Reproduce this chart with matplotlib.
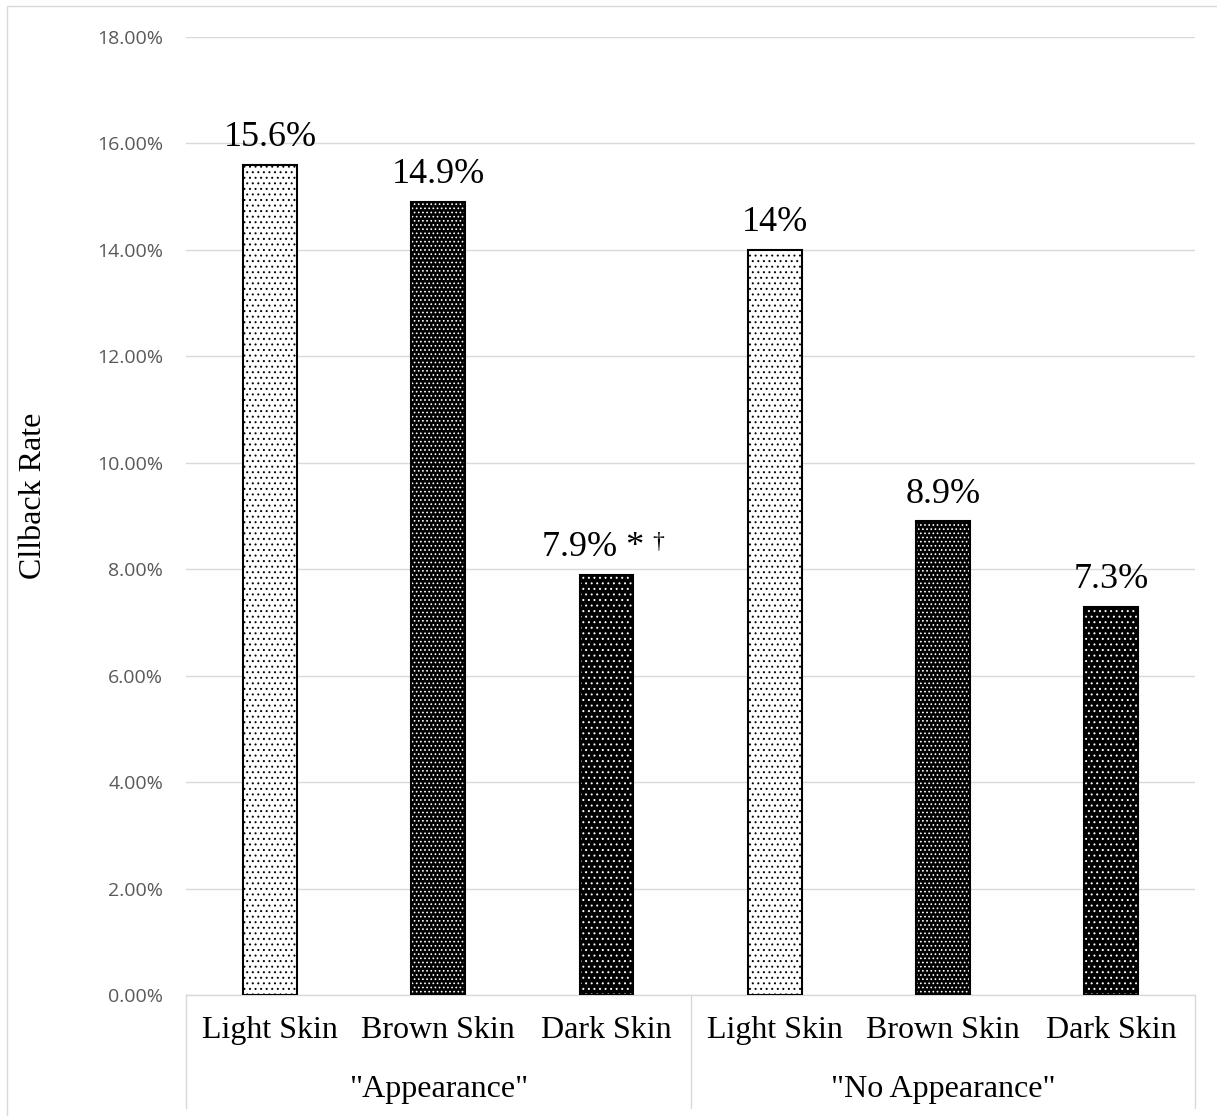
import numpy as np
import matplotlib
matplotlib.use('Agg')
import matplotlib.pyplot as plt
from matplotlib.patches import Rectangle
from matplotlib.ticker import FuncFormatter

plt.rcParams['hatch.linewidth'] = 0.7

# callback rates (%) by condition and skin tone
groups = ['"Appearance"', '"No Appearance"']
skins = ['Light Skin', 'Brown Skin', 'Dark Skin']
rates = [15.6, 14.9, 7.9, 14.0, 8.9, 7.3]
value_labels = ['15.6%', '14.9%', '7.9% *', '14%', '8.9%', '7.3%']
yticks = [0, 2, 4, 6, 8, 10, 12, 14, 16, 18]

grey = '#d9d9d9'
serif = 'Liberation Serif'

# face colour, dot colour, hatch for each skin tone
styles = {
    'Light Skin': ('white', 'black', '...'),
    'Brown Skin': ('black', 'white', '....'),
    'Dark Skin': ('black', 'white', '...'),
}

fig = plt.figure(figsize=(12.17, 11.16), dpi=100)
ax = fig.add_axes([0.1528, 0.1084, 0.8294, 0.8584])

# outer chart border
fig.patches.append(Rectangle((0.00575, -0.01), 1.0, 1.0046, transform=fig.transFigure,
                             fill=False, edgecolor=grey, lw=1.0))

x = np.arange(len(rates))
labels_all = skins * len(groups)
for xi, v, sk in zip(x, rates, labels_all):
    face, dots, hatch = styles[sk]
    ax.bar(xi, v, width=0.32, color=face, edgecolor=dots, hatch=hatch, lw=0, zorder=2)
    ax.bar(xi, v, width=0.32, fill=False, edgecolor='black', lw=1.5, zorder=3)

for xi, v, lab in zip(x, rates, value_labels):
    dx = -10 if '*' in lab else 0
    t = ax.annotate(lab, (xi, v), xytext=(dx, 13.5), textcoords='offset points',
                    ha='center', va='baseline', fontsize=26, family=serif)
    if '*' in lab:
        ax.annotate('\u2020', xy=(1, 0.97), xycoords=t, xytext=(6, 0),
                    textcoords='offset points', ha='left', va='top',
                    fontsize=17, family=serif)

ax.set_xlim(-0.5, len(rates) - 0.5)
ax.set_ylim(0, 18)
ax.set_yticks(yticks)
ax.yaxis.set_major_formatter(FuncFormatter(lambda v, p: f'{v:.2f}%'))
ax.tick_params(axis='y', length=0, pad=16.5, labelsize=14, labelcolor='#595959')
for lab in ax.get_yticklabels():
    lab.set_family('Open Sans')
ax.set_xticks([])
ax.grid(axis='y', color=grey, lw=1.0, zorder=0)
ax.set_axisbelow(True)
for s in ['top', 'right', 'left']:
    ax.spines[s].set_visible(False)
ax.spines['bottom'].set_color(grey)
ax.spines['bottom'].set_linewidth(1.0)

ax.set_ylabel('Cllback Rate', fontsize=23, family=serif)
ax.yaxis.set_label_coords(-0.137, 0.521)

# two-level category axis
tr = ax.get_xaxis_transform()
for xi, sk in zip(x, labels_all):
    ax.text(xi, -0.037, sk, transform=tr, ha='center', va='center',
            fontsize=23, family=serif)
n = len(skins)
for g, name in enumerate(groups):
    mid = g * n + (n - 1) / 2
    ax.text(mid, -0.099, name, transform=tr, ha='center', va='center',
            fontsize=23, family=serif)
for b in np.arange(len(groups) + 1) * n - 0.5:
    ax.plot([b, b], [0, -0.118], transform=tr, color=grey, lw=1.0, clip_on=False)

fig.savefig('out.png', dpi=100)
